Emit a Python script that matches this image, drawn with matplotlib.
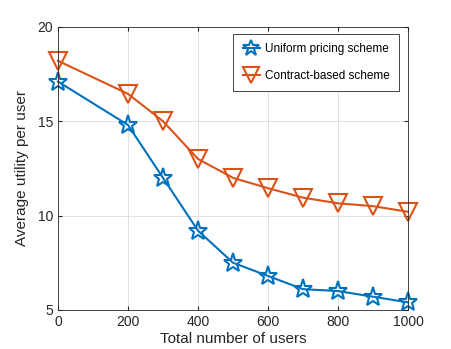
import matplotlib.pyplot as plt

users = [0, 200, 300, 400, 500, 600, 700, 800, 900, 1000]
uniform = [17.1, 14.8, 12.0, 9.2, 7.5, 6.8, 6.1, 6.0, 5.7, 5.4]
contract = [18.2, 16.45, 15.0, 13.0, 12.0, 11.45, 10.95, 10.65, 10.5, 10.2]

plt.rcParams['font.family'] = ['Liberation Sans', 'DejaVu Sans']

fig = plt.figure(figsize=(4.51, 3.49), dpi=100)
ax = fig.add_axes([0.1286, 0.112, 0.776, 0.811])

ax.plot(users, uniform, color='#0072BD', lw=1.5, marker='*', ms=14,
        mfc='none', mew=1.5, label='Uniform pricing scheme', clip_on=False)
ax.plot(users, contract, color='#D95319', lw=1.5, marker='v', ms=13,
        mfc='none', mew=1.5, label='Contract-based scheme', clip_on=False)

ax.set_xlim(0, 1000)
ax.set_ylim(5, 20)
ax.set_xticks(range(0, 1001, 200))
ax.set_yticks([5, 10, 15, 20])
ax.grid(True, color='#dcdcdc', lw=0.6)
ax.set_axisbelow(True)
ax.tick_params(direction='in', labelsize=10, colors='#262626', top=True, right=True, length=3)
for s in ax.spines.values():
    s.set_color('#262626')
    s.set_linewidth(0.6)

ax.set_xlabel('Total number of users', fontsize=11, color='#262626', labelpad=2)
ax.set_ylabel('Average utility per user', fontsize=11, color='#262626', labelpad=6)

leg = ax.legend(loc='upper right', bbox_to_anchor=(0.975, 0.976), fontsize=8.5,
                fancybox=False, edgecolor='#262626', framealpha=1,
                handlelength=1.5, handletextpad=0.4, borderpad=0.8,
                labelspacing=1.25, markerscale=0.85, borderaxespad=0)
leg.get_frame().set_linewidth(0.6)

fig.savefig('out.png', dpi=100)
